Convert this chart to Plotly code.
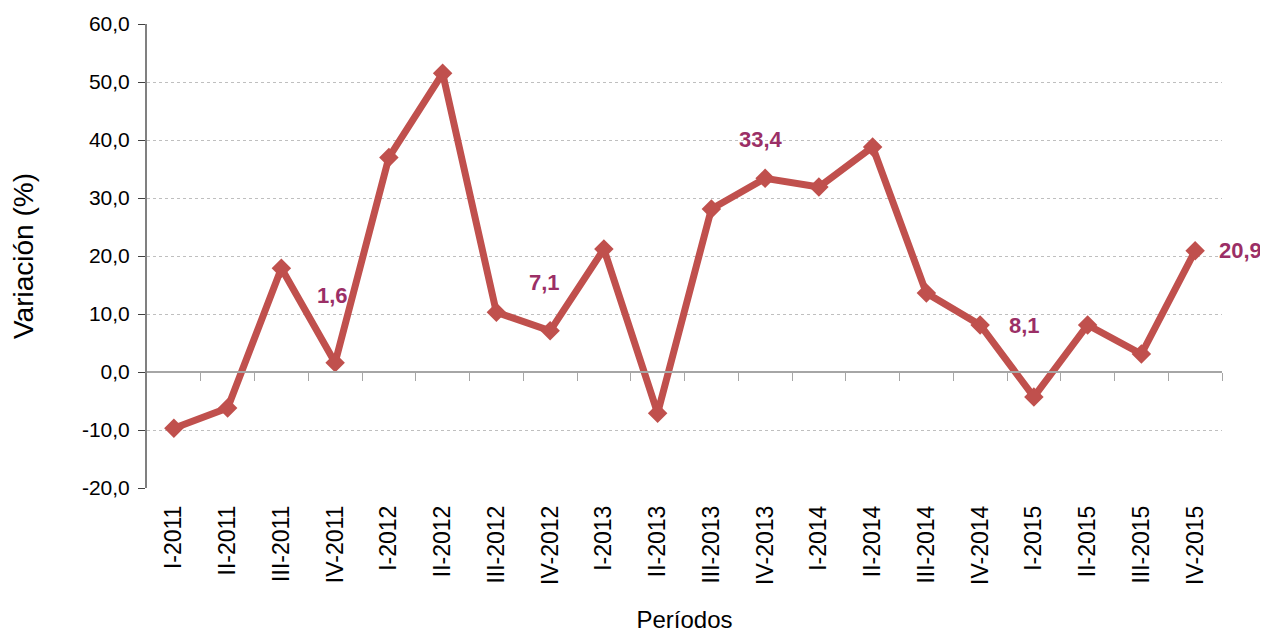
import plotly.graph_objects as go

periodos = ["I-2011", "II-2011", "III-2011", "IV-2011",
            "I-2012", "II-2012", "III-2012", "IV-2012",
            "I-2013", "II-2013", "III-2013", "IV-2013",
            "I-2014", "II-2014", "III-2014", "IV-2014",
            "I-2015", "II-2015", "III-2015", "IV-2015"]
variacion = [-9.7, -6.2, 17.9, 1.6,
             37.0, 51.5, 10.3, 7.1,
             21.2, -7.1, 28.1, 33.4,
             31.9, 38.8, 13.6, 8.1,
             -4.3, 8.1, 3.1, 20.9]
y_ticks = [-20, -10, 0, 10, 20, 30, 40, 50, 60]

# points that carry a value label, with pixel offsets
etiquetas = {3: (-3, 67), 7: (-6, 48), 11: (-4, 39), 15: (44, 0), 19: (45, 0)}

LINE = "#C0504D"
LABEL = "#9B2F66"
FONT = "Liberation Sans, Arial, sans-serif"

x = list(range(len(periodos)))

def fmt(v):
    return f"{v:.1f}".replace(".", ",")

fig = go.Figure()
fig.add_trace(go.Scatter(
    x=x, y=variacion, mode="lines+markers",
    line=dict(color=LINE, width=7),
    marker=dict(symbol="diamond", size=15, color=LINE),
    showlegend=False, hoverinfo="skip",
))
# invisible trace so the zero-line axis exists
fig.add_trace(go.Scatter(x=x, y=variacion, xaxis="x2", mode="none",
                         showlegend=False, hoverinfo="skip"))

for i, (dx, dy) in etiquetas.items():
    fig.add_annotation(
        x=x[i], y=variacion[i], xref="x", yref="y",
        text=f"<b>{fmt(variacion[i])}</b>",
        showarrow=False, xshift=dx, yshift=dy,
        font=dict(family="Liberation Sans Narrow, Arial Narrow, " + FONT, size=22, color=LABEL),
    )

# page body adds an 8px margin, so the figure is a bit smaller than the window
fig.update_layout(
    width=1260, height=633,
    margin=dict(l=139, r=46, t=16, b=153, autoexpand=False),
    paper_bgcolor="white", plot_bgcolor="white",
    font=dict(family=FONT, color="black"),
    xaxis=dict(
        range=[-0.5, 19.5], tickmode="array", tickvals=x, ticktext=periodos,
        tickangle=-90, tickfont=dict(size=23), showgrid=False, zeroline=False,
        showline=False, ticks="", automargin=False, ticklabelstandoff=12,
        title=dict(text="Períodos", font=dict(size=24), standoff=27),
    ),
    xaxis2=dict(
        range=[-0.5, 19.5], overlaying="x", anchor="free", position=0.25,
        tickmode="array", tickvals=[v + 0.5 for v in x], showticklabels=False,
        ticks="outside", ticklen=8, tickcolor="#A6A6A6", tickwidth=1,
        showline=True, linecolor="#A6A6A6", linewidth=2, showgrid=False,
        zeroline=False, automargin=False,
    ),
    yaxis=dict(
        range=[-20, 60], tickmode="array", tickvals=y_ticks,
        ticktext=[fmt(v) for v in y_ticks], tickfont=dict(size=21),
        showgrid=True, gridcolor="#BFBFBF", griddash="dot", gridwidth=1,
        zeroline=False, showline=True, linecolor="#808080", linewidth=2,
        ticks="outside", ticklen=7, tickcolor="#404040", automargin=False,
        ticklabelstandoff=4,
        title=dict(text="Variación (%)", font=dict(size=28), standoff=45),
    ),
)

fig.write_html("out.html")
